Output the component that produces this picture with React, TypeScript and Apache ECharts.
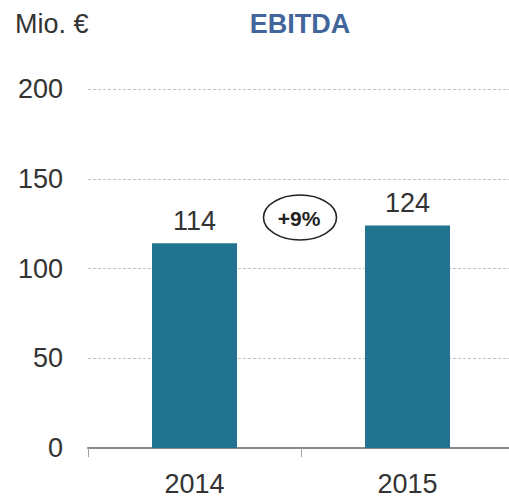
import React, { useEffect, useRef } from "react";
import * as echarts from "echarts";

const categories = ["2014", "2015"];
const values = [114, 124];
const yTicks = [0, 50, 100, 150, 200];
const unitLabel = "Mio. €";
const titleText = "EBITDA";
const growthLabel = "+9%";

const FONT = "'Liberation Sans', Arial, Helvetica, sans-serif";

export default function App() {
  const ref = useRef<HTMLDivElement>(null);
  useEffect(() => {
    if (!ref.current) return;
    const chart = echarts.init(ref.current, undefined, { renderer: "svg" });
    chart.setOption({
      animation: false,
      backgroundColor: "#ffffff",
      grid: { left: 88, right: 0, top: 89, bottom: 49, containLabel: false },
      xAxis: {
        type: "category",
        data: categories,
        axisLine: { show: true, lineStyle: { color: "#8a8a8a", width: 2 } },
        axisTick: { show: true, length: 9, lineStyle: { color: "#a0a0a0", width: 1 } },
        axisLabel: { color: "#333333", fontSize: 27, fontFamily: FONT, margin: 22 },
      },
      yAxis: {
        type: "value",
        min: yTicks[0],
        max: yTicks[yTicks.length - 1],
        interval: 50,
        axisLine: { show: false },
        axisTick: { show: false },
        axisLabel: { color: "#333333", fontSize: 27, fontFamily: FONT, margin: 25 },
        splitLine: { show: true, lineStyle: { color: "#c4c4c4", type: [3, 2], width: 1 } },
      },
      series: [
        {
          type: "bar",
          data: values,
          barWidth: 85,
          itemStyle: { color: "#21738f" },
          label: {
            show: true,
            position: "top",
            distance: 9,
            color: "#333333",
            fontSize: 27,
            fontFamily: FONT,
          },
        },
      ],
      graphic: [
        {
          type: "text",
          left: 15,
          top: 10,
          style: { text: unitLabel, fontSize: 27, fontFamily: FONT, fill: "#333333" },
        },
        {
          type: "text",
          x: 300,
          y: 24,
          style: {
            text: titleText,
            fontSize: 27,
            fontWeight: "bold",
            fontFamily: FONT,
            fill: "#42669c",
            align: "center",
            verticalAlign: "middle",
          },
        },
        {
          type: "ellipse",
          shape: { cx: 300, cy: 217.5, rx: 36.5, ry: 22.5 },
          style: { fill: "none", stroke: "#222222", lineWidth: 1.6 },
        },
        {
          type: "text",
          x: 299,
          y: 218,
          style: {
            text: growthLabel,
            fontSize: 21,
            fontWeight: "bold",
            fontFamily: FONT,
            fill: "#222222",
            align: "center",
            verticalAlign: "middle",
          },
        },
      ],
    });
    return () => chart.dispose();
  }, []);
  return (
    <div
      style={{
        position: "fixed",
        left: 0,
        top: 0,
        width: 509,
        height: 497,
        overflow: "hidden",
        background: "#fff",
      }}
    >
      <div ref={ref} style={{ width: 514, height: 497 }} />
    </div>
  );
}
